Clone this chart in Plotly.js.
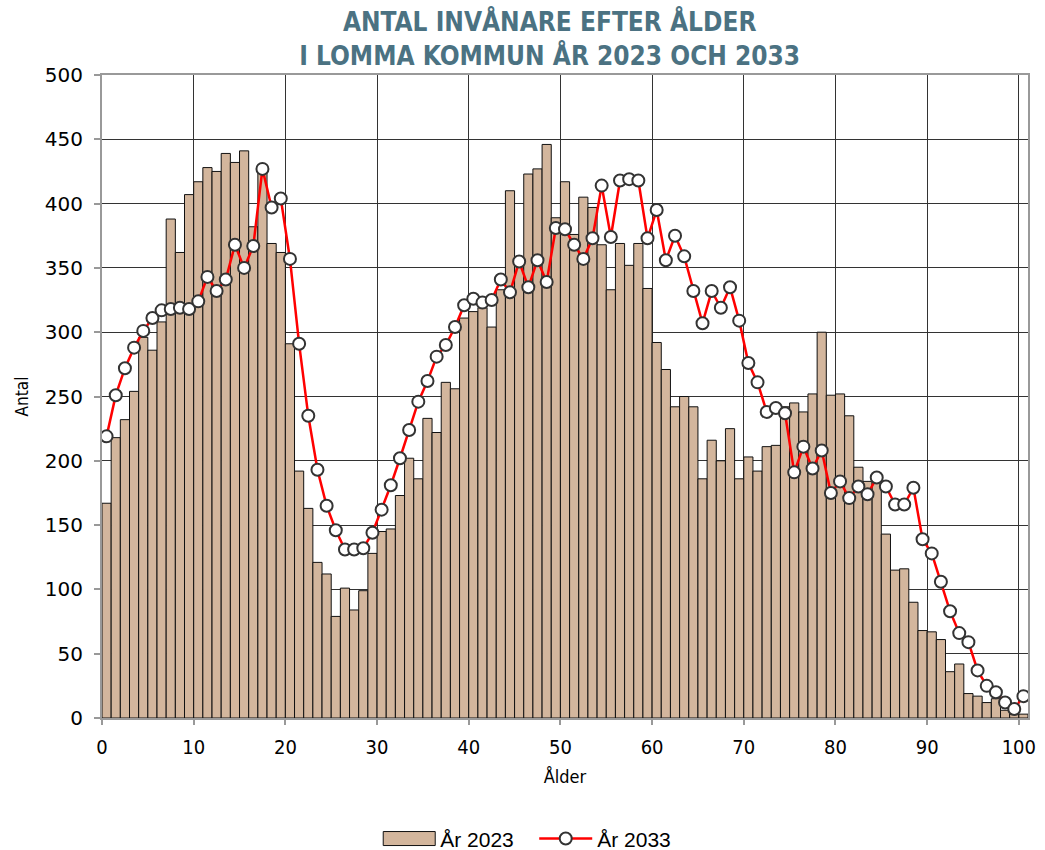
<!DOCTYPE html>
<html>
<head>
<meta charset="utf-8">
<script src="https://cdn.plot.ly/plotly-3.0.1.min.js"></script>
<style>html,body{margin:0;padding:0;background:#fff;}#chart{width:1045px;height:850px;}</style>
</head>
<body>
<div id="chart"></div>
<script>
// Ages 0..100
const ages = Array.from({length: 101}, (_, i) => i);

const inv2023 = [167,218,232,254,296,286,308,388,362,407,
  417,428,425,439,432,441,382,428,369,362,
  291,192,163,121,112,79,101,84,99,128,
  145,147,173,202,186,233,222,261,256,311,
  316,319,304,333,410,358,423,427,446,389,
  417,376,405,397,368,333,369,352,369,334,
  292,271,242,250,242,186,216,200,225,186,
  203,192,211,212,242,245,238,252,300,251,
  252,235,195,184,186,143,115,116,90,68,
  67,61,36,42,19,17,12,15,6,3,
  3];

const inv2033 = [219,251,272,288,301,311,317,318,319,318,
  324,343,332,341,368,350,367,427,397,404,
  357,291,235,193,165,146,131,131,132,144,
  162,181,202,224,246,262,281,290,304,321,
  326,323,325,341,331,355,335,356,339,381,
  380,368,357,373,414,374,418,419,418,373,
  395,356,375,359,332,307,332,319,335,309,
  276,261,238,241,237,191,211,194,208,175,
  184,171,180,174,187,180,166,166,179,139,
  128,106,83,66,59,37,25,20,12,7,
  17];

const xTickVals = [0,10,20,30,40,50,60,70,80,90,100];
const yTickVals = [0,50,100,150,200,250,300,350,400,450,500];
const seriesNames = ['År 2023', 'År 2033'];
const titleText = 'ANTAL INVÅNARE EFTER ÅLDER<br>I LOMMA KOMMUN ÅR 2023 OCH 2033';

const narrow = '"DejaVu Sans Condensed", "Liberation Sans Narrow", "Arial Narrow", "Liberation Sans", sans-serif';
const xs = ages.map(a => a + 0.5);

const traces = [
  {
    type: 'bar', name: seriesNames[0], x: xs, y: inv2023, width: 1,
    marker: {color: '#d3b69d', line: {color: '#111', width: 1}},
    hoverinfo: 'x+y'
  },
  {
    type: 'scatter', mode: 'lines+markers', name: seriesNames[1], x: xs, y: inv2033,
    line: {color: '#ff0000', width: 2.5},
    marker: {symbol: 'circle', size: 12, color: '#ffffff', line: {color: '#333333', width: 2}}
  }
];

const layout = {
  width: 1045, height: 850,
  margin: {l: 102, r: 17, t: 75, b: 132, autoexpand: false},
  paper_bgcolor: '#fff', plot_bgcolor: '#fff',
  showlegend: true,
  title: {
    text: titleText,
    font: {family: narrow, size: 26, color: '#4b7282', weight: 'bold'},
    x: 0.526, xref: 'container', xanchor: 'center',
    y: 0.963, yref: 'container', yanchor: 'top'
  },
  xaxis: {
    range: [0, 101], tickvals: xTickVals, ticktext: xTickVals.map(String),
    showgrid: true, gridcolor: '#333', gridwidth: 1,
    showline: true, linecolor: '#999', linewidth: 2, mirror: true,
    ticks: 'outside', ticklen: 5, tickcolor: '#999', tickwidth: 2,
    ticklabelstandoff: 5,
    tickfont: {family: narrow, size: 20, color: '#000'},
    zeroline: false,
    title: {text: 'Ålder', font: {family: narrow, size: 18, color: '#000'}, standoff: 12}
  },
  yaxis: {
    range: [0, 500], tickvals: yTickVals,
    showgrid: true, gridcolor: '#333', gridwidth: 1,
    showline: true, linecolor: '#999', linewidth: 2, mirror: true,
    ticks: 'outside', ticklen: 6, tickcolor: '#999', tickwidth: 2,
    ticklabelstandoff: 7,
    tickfont: {family: '"DejaVu Sans", Verdana, sans-serif', size: 20, color: '#000'},
    zeroline: false,
    title: {text: 'Antal', font: {family: narrow, size: 17, color: '#000'}, standoff: 12}
  },
  legend: {
    orientation: 'h', x: 0.505, xanchor: 'center', y: -0.188, yanchor: 'middle',
    font: {family: '"Liberation Sans", Arial, sans-serif', size: 21, color: '#000'},
    traceorder: 'normal', bgcolor: 'rgba(0,0,0,0)'
  },
  bargap: 0
};

Plotly.newPlot('chart', traces, layout, {displayModeBar: false, staticPlot: true}).then(gd => {
  // Reshape legend swatches to resemble the reference (wide bar swatch, long line with centred marker)
  const items = gd.querySelectorAll('g.legend g.traces');
  if (items.length < 2) return;
  const parseT = el => {
    const m = /translate\(\s*([-\d.]+)[ ,]+([-\d.]+)\s*\)/.exec(el.getAttribute('transform') || '');
    return m ? [parseFloat(m[1]), parseFloat(m[2])] : [0, 0];
  };
  // remove legend clipping so the rearranged items stay visible
  gd.querySelectorAll('g.legend [clip-path]').forEach(el => el.removeAttribute('clip-path'));
  const barItem = items[0], lineItem = items[1];
  barItem.querySelectorAll('g.legendpoints path').forEach(bp => {
    bp.setAttribute('transform', 'translate(26,0)');
    bp.setAttribute('d', 'M-26,7H26V-7H-26Z');
  });
  const bt = barItem.querySelector('text.legendtext');
  if (bt) bt.setAttribute('x', 57);
  const lp = lineItem.querySelector('path.js-line');
  if (lp) { lp.removeAttribute('transform'); lp.setAttribute('d', 'M0,0h53'); }
  lineItem.querySelectorAll('path.scatterpts').forEach(p => p.setAttribute('transform', 'translate(26.5,0)'));
  const lt = lineItem.querySelector('text.legendtext');
  if (lt) lt.setAttribute('x', 58);
  const [x0] = parseT(barItem);
  const [, y1] = parseT(lineItem);
  lineItem.setAttribute('transform', 'translate(' + (x0 + 156) + ',' + y1 + ')');
  // centre the legend content at x = 527 px
  let minX = Infinity, maxX = -Infinity;
  [barItem, lineItem].forEach(it => {
    const r = it.getBoundingClientRect();
    minX = Math.min(minX, r.left); maxX = Math.max(maxX, r.right);
  });
  const leg = gd.querySelector('g.legend');
  const [lx, ly] = parseT(leg);
  const shift = 527 - (minX + maxX) / 2;
  leg.setAttribute('transform', 'translate(' + (lx + shift) + ',' + ly + ')');
});
</script>
</body>
</html>
